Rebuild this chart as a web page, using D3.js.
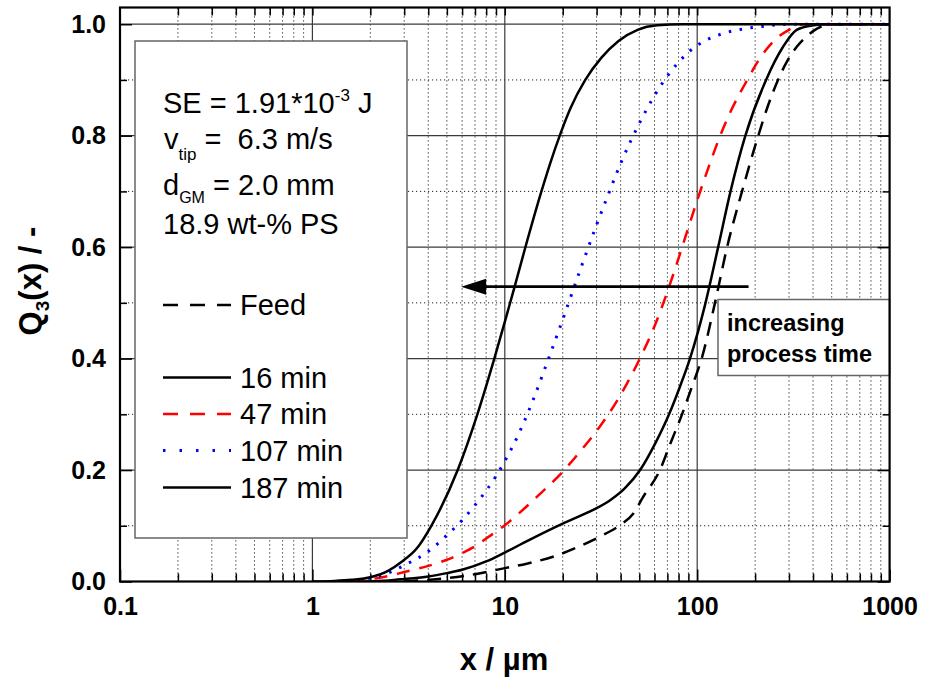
<!DOCTYPE html>
<html>
<head>
<meta charset="utf-8">
<script src="https://cdn.jsdelivr.net/npm/d3@7"></script>
<style>
  html, body { margin: 0; padding: 0; background: #fff; }
  svg { display: block; font-family: "Liberation Sans", Arial, sans-serif; }
  text { white-space: pre; }
</style>
</head>
<body>
<svg id="chart" width="925" height="681"></svg>
<script>
// Cumulative volume distributions Q3(x) of the feed and after grinding times
const feedX  = [3.0, 4.0, 5.0, 7.0, 10, 13, 18, 24, 31, 40, 46.6, 52, 64, 73, 83.4, 94, 105.5, 123.7, 143, 171, 207.7, 234, 263, 295, 330, 370, 420, 490, 1000];
const feedQ  = [0, 0.003, 0.006, 0.013, 0.024, 0.032, 0.045, 0.062, 0.080, 0.102, 0.122, 0.150, 0.200, 0.250, 0.300, 0.350, 0.400, 0.500, 0.600, 0.700, 0.800, 0.855, 0.900, 0.935, 0.960, 0.978, 0.992, 1.0, 1.0];

const min16X = [1.8, 2.5, 3.0, 4.0, 5.0, 6.0, 8.0, 10, 14, 20, 27, 35, 42, 50.5, 61, 71.4, 81.4, 91.7, 110.5, 128.5, 149, 178, 228, 280, 329, 400, 480, 1000];
const min16Q = [0, 0.002, 0.0045, 0.009, 0.015, 0.021, 0.036, 0.052, 0.078, 0.104, 0.124, 0.145, 0.167, 0.200, 0.250, 0.300, 0.350, 0.400, 0.500, 0.600, 0.700, 0.800, 0.900, 0.960, 0.990, 0.998, 1.0, 1.0];

const min47X = [1.6, 2.0, 2.5, 3.0, 4.0, 5.0, 6.0, 7.0, 8.0, 10, 12, 15, 20, 25, 30, 40, 50, 60, 70, 80, 90, 100, 115, 130, 150, 180, 210, 250, 300, 360, 1000];
const min47Q = [0, 0.004, 0.010, 0.017, 0.028, 0.039, 0.051, 0.063, 0.077, 0.101, 0.124, 0.155, 0.197, 0.236, 0.270, 0.335, 0.398, 0.458, 0.520, 0.580, 0.635, 0.684, 0.745, 0.795, 0.845, 0.897, 0.937, 0.970, 0.990, 1.0, 1.0];

const min107X = [1.5, 2.0, 2.5, 3.0, 4.0, 5.0, 6.0, 7.0, 8.0, 9.0, 10, 12, 14, 17, 20, 25, 30, 35, 40, 50, 60, 70, 80, 100, 130, 170, 230, 300, 1000];
const min107Q = [0, 0.006, 0.016, 0.029, 0.054, 0.083, 0.110, 0.137, 0.163, 0.189, 0.216, 0.270, 0.325, 0.403, 0.470, 0.565, 0.640, 0.700, 0.750, 0.822, 0.872, 0.907, 0.932, 0.962, 0.981, 0.991, 0.997, 1.0, 1.0];

const min187X = [1.0, 1.3, 1.6, 2.0, 2.5, 2.9, 3.5, 4.15, 5.69, 7.2, 8.82, 10, 11.25, 12.75, 15.5, 17.2, 19.3, 22.0, 26.2, 31.8, 39, 49, 62, 85, 1000];
const min187Q = [0, 0.001, 0.003, 0.0075, 0.02, 0.035, 0.060, 0.100, 0.200, 0.300, 0.400, 0.466, 0.529, 0.598, 0.700, 0.750, 0.800, 0.850, 0.900, 0.940, 0.970, 0.990, 0.998, 1.0, 1.0];

const seriesNames = ["Feed", "16 min", "47 min", "107 min", "187 min"];
const xTickValues = [0.1, 1, 10, 100, 1000];
const xTickLabels = ["0.1", "1", "10", "100", "1000"];
const yTickValues = [0, 0.2, 0.4, 0.6, 0.8, 1.0];
const yTickLabels = ["0.0", "0.2", "0.4", "0.6", "0.8", "1.0"];
const yMinorValues = [0.1, 0.3, 0.5, 0.7, 0.9];

// Arrow "increasing process time" (from coarse to fine, at constant Q3)
const arrowX = [185, 5.93];
const arrowQ = 0.529;

const series = [
  { name: seriesNames[0], xs: feedX,   qs: feedQ,   color: "#000",    width: 2.5, dash: "14,9" },
  { name: seriesNames[1], xs: min16X,  qs: min16Q,  color: "#000",    width: 2.5, dash: null },
  { name: seriesNames[2], xs: min47X,  qs: min47Q,  color: "#ff0000", width: 2.5, dash: "13,10" },
  { name: seriesNames[3], xs: min107X, qs: min107Q, color: "#0000ff", width: 3,   dash: "2.5,8.5" },
  { name: seriesNames[4], xs: min187X, qs: min187Q, color: "#000",    width: 2.5, dash: null }
];

const svg = d3.select("#chart");
const plotL = 120, plotR = 889.6, plotB = 581.5, plotT = 7.5;

const x = d3.scaleLog().domain([0.1, 1000]).range([plotL, plotR]);
const y = d3.scaleLinear().domain([0, 1.03]).range([plotB, plotT]);

// minor x positions (2..9 within each decade)
const xMinorValues = [];
[0.1, 1, 10, 100].forEach(d => { for (let k = 2; k <= 9; k++) xMinorValues.push(d * k); });

// Grid
const grid = svg.append("g");
grid.selectAll("line.xminor").data(xMinorValues).join("line")
  .attr("x1", d => x(d)).attr("x2", d => x(d)).attr("y1", plotB).attr("y2", plotT)
  .attr("stroke", "#222").attr("stroke-width", 1).attr("stroke-dasharray", "1.2,2.8");
grid.selectAll("line.yminor").data(yMinorValues).join("line")
  .attr("x1", plotL).attr("x2", plotR).attr("y1", d => y(d)).attr("y2", d => y(d))
  .attr("stroke", "#222").attr("stroke-width", 1).attr("stroke-dasharray", "1.2,2.8");
grid.selectAll("line.xmajor").data([1, 10, 100]).join("line")
  .attr("x1", d => x(d)).attr("x2", d => x(d)).attr("y1", plotB).attr("y2", plotT)
  .attr("stroke", "#3a3a3a").attr("stroke-width", 1.2);
grid.selectAll("line.ymajor").data([0.2, 0.4, 0.6, 0.8, 1.0]).join("line")
  .attr("x1", plotL).attr("x2", plotR).attr("y1", d => y(d)).attr("y2", d => y(d))
  .attr("stroke", "#3a3a3a").attr("stroke-width", 1.2);

// Axes with inward ticks on all four sides
function styleAxis(g) {
  g.select(".domain").remove();
  g.selectAll(".tick line").attr("stroke", "#000").attr("stroke-width", 1.5);
}
const fmtX = d => xTickLabels[xTickValues.indexOf(d)];
const fmtY = d => yTickLabels[yTickValues.indexOf(d)];

svg.append("g").attr("transform", `translate(0,${plotB})`)
  .call(d3.axisBottom(x).tickValues(xMinorValues).tickSize(-8).tickFormat(""))
  .call(styleAxis);
svg.append("g").attr("transform", `translate(0,${plotT})`)
  .call(d3.axisTop(x).tickValues(xMinorValues.concat([1, 10, 100])).tickSize(-8).tickFormat(""))
  .call(styleAxis);
const xAxis = svg.append("g").attr("transform", `translate(0,${plotB})`)
  .call(d3.axisBottom(x).tickValues(xTickValues).tickSizeInner(-12).tickSizeOuter(0).tickPadding(16).tickFormat(fmtX))
  .call(styleAxis);
xAxis.selectAll("text").attr("font-size", 25).attr("font-weight", "bold")
  .attr("font-family", "'Liberation Sans', Arial, sans-serif").attr("fill", "#000");

const yAxis = svg.append("g").attr("transform", `translate(${plotL},0)`)
  .call(d3.axisLeft(y).tickValues(yTickValues).tickSizeInner(-12).tickSizeOuter(0).tickPadding(14).tickFormat(fmtY))
  .call(styleAxis);
yAxis.selectAll("text").attr("font-size", 25).attr("font-weight", "bold")
  .attr("font-family", "'Liberation Sans', Arial, sans-serif").attr("fill", "#000");
svg.append("g").attr("transform", `translate(${plotL},0)`)
  .call(d3.axisLeft(y).tickValues(yMinorValues).tickSize(-7).tickFormat(""))
  .call(styleAxis);
svg.append("g").attr("transform", `translate(${plotR},0)`)
  .call(d3.axisRight(y).tickValues(yTickValues).tickSize(-12).tickFormat(""))
  .call(styleAxis);
svg.append("g").attr("transform", `translate(${plotR},0)`)
  .call(d3.axisRight(y).tickValues(yMinorValues).tickSize(-7).tickFormat(""))
  .call(styleAxis);

// Legend / parameter box
const lg = svg.append("g");
lg.append("rect").attr("x", 135).attr("y", 41).attr("width", 272).attr("height", 497)
  .attr("fill", "#fff").attr("stroke", "#666").attr("stroke-width", 1.5);

const fs = 29, fsSub = 17;
const t1 = lg.append("text").attr("x", 163).attr("y", 113).attr("font-size", fs);
t1.append("tspan").text("SE = 1.91*10");
t1.append("tspan").attr("font-size", fsSub).attr("dy", -12).text("-3");
t1.append("tspan").attr("dy", 12).text(" J");

const t2 = lg.append("text").attr("x", 164).attr("y", 149).attr("font-size", fs);
t2.append("tspan").text("v");
t2.append("tspan").attr("font-size", fsSub).attr("dy", 11).text("tip");
t2.append("tspan").attr("dy", -11).text(" =  6.3 m/s");

const t3 = lg.append("text").attr("x", 163).attr("y", 195).attr("font-size", fs);
t3.append("tspan").text("d");
t3.append("tspan").attr("font-size", 16).attr("dy", 8).text("GM");
t3.append("tspan").attr("dy", -8).text(" = 2.0 mm");

lg.append("text").attr("x", 163).attr("y", 234).attr("font-size", fs).text("18.9 wt-% PS");

const legendRows = [305, 377.5, 414, 450.5, 487.5];
series.forEach((s, i) => {
  const ly = legendRows[i];
  lg.append("line").attr("x1", 163).attr("x2", 231).attr("y1", ly).attr("y2", ly)
    .attr("stroke", s.color).attr("stroke-width", s.width)
    .attr("stroke-dasharray", s.dash ? (i === 3 ? "2.5,14" : "15,12") : null);
  lg.append("text").attr("x", 240).attr("y", ly + 10).attr("font-size", fs).text(s.name);
});

// Curves
svg.append("clipPath").attr("id", "plotClip").append("rect")
  .attr("x", plotL).attr("y", plotT).attr("width", plotR - plotL).attr("height", plotB - plotT);
const line = d3.line().x(d => x(d[0])).y(d => y(d[1])).curve(d3.curveMonotoneX);
const curves = svg.append("g").attr("clip-path", "url(#plotClip)");
series.forEach(s => {
  curves.append("path").datum(s.xs.map((v, i) => [v, s.qs[i]]))
    .attr("d", line).attr("fill", "none")
    .attr("stroke", s.color).attr("stroke-width", s.width)
    .attr("stroke-dasharray", s.dash);
});

// Arrow
const ay = y(arrowQ), ax0 = x(arrowX[0]), ax1 = x(arrowX[1]);
const headLen = 25, headHalf = 8;
svg.append("line").attr("x1", ax0).attr("x2", ax1 + headLen - 2).attr("y1", ay).attr("y2", ay)
  .attr("stroke", "#000").attr("stroke-width", 2.8);
svg.append("path")
  .attr("d", `M${ax1},${ay} L${ax1 + headLen},${ay - headHalf} L${ax1 + headLen},${ay + headHalf} Z`)
  .attr("fill", "#000");

// Annotation box
const ab = svg.append("g");
ab.append("rect").attr("x", 718).attr("y", 299.5).attr("width", plotR - 718).attr("height", 76)
  .attr("fill", "#fff").attr("stroke", "#666").attr("stroke-width", 1.5);
ab.append("text").attr("x", 727).attr("y", 331).attr("font-size", 23.5).attr("font-weight", "bold").text("increasing");
ab.append("text").attr("x", 727).attr("y", 362).attr("font-size", 23.5).attr("font-weight", "bold").text("process time");

// Frame
svg.append("rect").attr("x", plotL).attr("y", plotT).attr("width", plotR - plotL).attr("height", plotB - plotT)
  .attr("fill", "none").attr("stroke", "#000").attr("stroke-width", 2.2);

// Axis titles
svg.append("text").attr("x", 504).attr("y", 670).attr("text-anchor", "middle")
  .attr("font-size", 31).attr("font-weight", "bold").text("x / µm");
const yt = svg.append("text").attr("transform", "translate(41,281) rotate(-90)")
  .attr("text-anchor", "middle").attr("font-size", 31).attr("font-weight", "bold");
yt.append("tspan").text("Q");
yt.append("tspan").attr("font-size", 19).attr("dy", 8).text("3");
yt.append("tspan").attr("dy", -8).text("(x) / -");
</script>
</body>
</html>
